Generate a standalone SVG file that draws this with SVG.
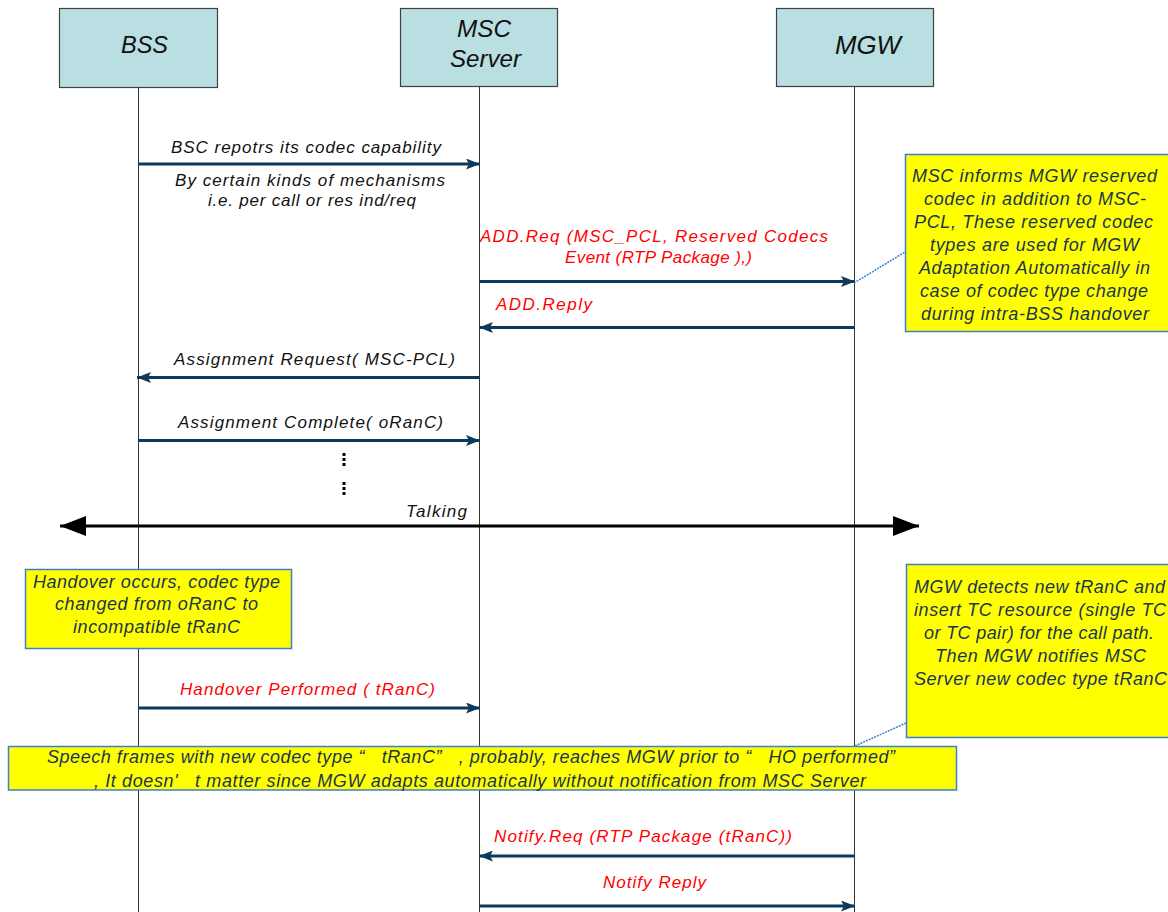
<svg xmlns="http://www.w3.org/2000/svg" width="1168" height="912" viewBox="0 0 1168 912">
<style>
text{font-family:"Liberation Sans",Arial,sans-serif;font-style:italic}
.hdr{fill:#b9dfe3;stroke:#404040;stroke-width:1.2}
.ht{font-size:24px;fill:#111}
.life{stroke:#333;stroke-width:1}
.msg{stroke:#0d3a5c;stroke-width:2.8;fill:none}
.ml{font-size:17px;fill:#111}
.red{font-size:17px;fill:#ff0000}
.note{fill:#ffff00;stroke:#3a7fd5;stroke-width:1.5}
.nt{font-size:18px;fill:#1a3550}
.dot{stroke:#3a7fd5;stroke-width:1.5;stroke-dasharray:2 1;fill:none}
</style>
<defs>
<marker id="ah" viewBox="0 0 14 11" refX="14" refY="5.5" markerWidth="14" markerHeight="11" markerUnits="userSpaceOnUse" orient="auto">
<path d="M0,0 L14,5.5 L0,11 L3,5.5 Z" fill="#0d3a5c"/>
</marker>
<marker id="big" viewBox="0 0 26 20" refX="26" refY="10" markerWidth="26" markerHeight="20" markerUnits="userSpaceOnUse" orient="auto-start-reverse">
<path d="M0,0 L26,10 L0,20 Z" fill="#000"/>
</marker>
</defs>

<g id="bss">
<rect class="hdr" x="59.5" y="8.5" width="158" height="79"/>
<text class="ht" x="121" y="52.5" textLength="47" lengthAdjust="spacingAndGlyphs">BSS</text>
<line class="life" x1="138.5" y1="87" x2="138.5" y2="912"/>
</g>
<g id="msc">
<rect class="hdr" x="400.5" y="8.5" width="157" height="78"/>
<text class="ht" x="457" y="36.5" textLength="54" lengthAdjust="spacingAndGlyphs">MSC</text>
<text class="ht" x="450" y="66.5" textLength="71" lengthAdjust="spacingAndGlyphs">Server</text>
<line class="life" x1="479.5" y1="86" x2="479.5" y2="912"/>
</g>
<g id="mgw">
<rect class="hdr" x="776.5" y="8.5" width="157" height="78"/>
<text class="ht" x="835" y="54" textLength="66" lengthAdjust="spacingAndGlyphs" style="font-size:25.5px">MGW</text>
<line class="life" x1="854.5" y1="86" x2="854.5" y2="912"/>
</g>

<g id="connectors">
<line class="msg" x1="138" y1="164" x2="480" y2="164" marker-end="url(#ah)"/>
<line class="msg" x1="479" y1="281.5" x2="855" y2="281.5" marker-end="url(#ah)"/>
<line class="msg" x1="854" y1="327.5" x2="479" y2="327.5" marker-end="url(#ah)"/>
<line class="msg" x1="479" y1="377.5" x2="137" y2="377.5" marker-end="url(#ah)"/>
<line class="msg" x1="138" y1="440.5" x2="480" y2="440.5" marker-end="url(#ah)"/>
<line x1="60" y1="526" x2="919" y2="526" stroke="#000" stroke-width="2.8" marker-start="url(#big)" marker-end="url(#big)"/>
<line class="msg" x1="138" y1="708" x2="480" y2="708" marker-end="url(#ah)"/>
<line class="msg" x1="854" y1="856" x2="479" y2="856" marker-end="url(#ah)"/>
<line class="msg" x1="479" y1="906" x2="855" y2="906" marker-end="url(#ah)"/>
<path class="dot" d="M854,283 L905,252"/>
<path class="dot" d="M855,746 L906,723"/>
</g>

<g id="labels">
<text class="ml" x="171" y="153" textLength="270" lengthAdjust="spacing">BSC repotrs its codec capability</text>
<text class="ml" x="175" y="186" textLength="270" lengthAdjust="spacing">By certain kinds of mechanisms</text>
<text class="ml" x="208" y="206" textLength="208" lengthAdjust="spacing">i.e. per call or res ind/req</text>
<text class="red" x="480" y="242" textLength="348" lengthAdjust="spacing">ADD.Req (MSC_PCL, Reserved Codecs</text>
<text class="red" x="565" y="263" textLength="187" lengthAdjust="spacing">Event (RTP Package ),)</text>
<text class="red" x="496" y="310" textLength="96" lengthAdjust="spacing">ADD.Reply</text>
<text class="ml" x="174" y="365" textLength="281" lengthAdjust="spacing">Assignment Request( MSC-PCL)</text>
<text class="ml" x="178" y="428" textLength="265" lengthAdjust="spacing">Assignment Complete( oRanC)</text>
<g fill="#000">
<rect x="342.5" y="453" width="3" height="3"/><rect x="342.5" y="458" width="3" height="3"/><rect x="342.5" y="463" width="3" height="3"/>
<rect x="342.5" y="482" width="3" height="3"/><rect x="342.5" y="487" width="3" height="3"/><rect x="342.5" y="492" width="3" height="3"/>
</g>
<text class="ml" x="406" y="517" textLength="61" lengthAdjust="spacing">Talking</text>
<text class="red" x="180" y="695" textLength="255" lengthAdjust="spacing">Handover Performed ( tRanC)</text>
<text class="red" x="494" y="842" textLength="298" lengthAdjust="spacing">Notify.Req (RTP Package (tRanC))</text>
<text class="red" x="603" y="888" textLength="103" lengthAdjust="spacing">Notify Reply</text>
</g>

<g id="note1">
<rect class="note" x="905.5" y="154.5" width="266" height="177"/>
<text class="nt" x="912" y="181.5" textLength="245" lengthAdjust="spacing">MSC informs MGW reserved</text>
<text class="nt" x="924" y="204.5" textLength="222" lengthAdjust="spacing">codec in addition to MSC-</text>
<text class="nt" x="914" y="227.5" textLength="239" lengthAdjust="spacing">PCL, These reserved codec</text>
<text class="nt" x="930" y="250.5" textLength="209" lengthAdjust="spacing">types are used for MGW</text>
<text class="nt" x="919" y="274" textLength="231" lengthAdjust="spacing">Adaptation Automatically in</text>
<text class="nt" x="920" y="297" textLength="228" lengthAdjust="spacing">case of codec type change</text>
<text class="nt" x="921" y="320" textLength="228" lengthAdjust="spacing">during intra-BSS handover</text>
</g>

<g id="note2">
<rect class="note" x="25.5" y="569.5" width="266" height="79"/>
<text class="nt" x="33" y="587.5" textLength="247" lengthAdjust="spacing">Handover occurs, codec type</text>
<text class="nt" x="55" y="610" textLength="203" lengthAdjust="spacing">changed from oRanC to</text>
<text class="nt" x="73" y="633" textLength="167" lengthAdjust="spacing">incompatible tRanC</text>
</g>

<g id="note3">
<rect class="note" x="906.5" y="564.5" width="265" height="173"/>
<text class="nt" x="914" y="593" textLength="251" lengthAdjust="spacing">MGW detects new tRanC and</text>
<text class="nt" x="914" y="616" textLength="252" lengthAdjust="spacing">insert TC resource (single TC</text>
<text class="nt" x="924" y="639" textLength="230" lengthAdjust="spacing">or TC pair) for the call path.</text>
<text class="nt" x="935" y="662" textLength="211" lengthAdjust="spacing">Then MGW notifies MSC</text>
<text class="nt" x="914" y="684.5" textLength="253" lengthAdjust="spacing">Server new codec type tRanC</text>
</g>

<g id="note4">
<rect class="note" x="8.5" y="746.5" width="948" height="43.5"/>
<text class="nt" x="47" y="763" textLength="848" lengthAdjust="spacing" xml:space="preserve">Speech frames with new codec type “   tRanC”   , probably, reaches MGW prior to “   HO performed”</text>
<text class="nt" x="94" y="787" textLength="772" lengthAdjust="spacing" xml:space="preserve">, It doesn'   t matter since MGW adapts automatically without notification from MSC Server</text>
</g>
</svg>
